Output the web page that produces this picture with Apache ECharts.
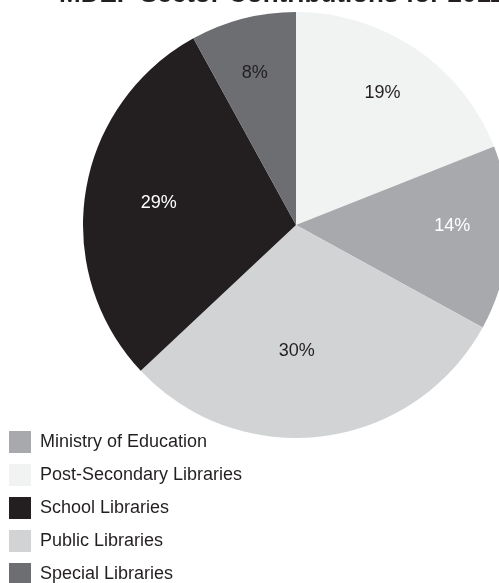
<!DOCTYPE html>
<html>
<head>
<meta charset="utf-8">
<script src="https://cdn.jsdelivr.net/npm/echarts@6/dist/echarts.min.js"></script>
<style>
html,body{margin:0;padding:0;background:#fff;}
#chart{width:499px;height:583px;}
</style>
</head>
<body>
<div id="chart"></div>
<script>
// Data (clockwise from 12 o'clock)
var categories = ['Post-Secondary Libraries', 'Ministry of Education', 'Public Libraries', 'School Libraries', 'Special Libraries'];
var values = [19, 14, 30, 29, 8];
var legendOrder = ['Ministry of Education', 'Post-Secondary Libraries', 'School Libraries', 'Public Libraries', 'Special Libraries'];
var titleText = 'MDEF Sector Contributions for 2011';

// Styles
var sliceColors = ['#f1f2f2', '#a7a9ac', '#d1d3d4', '#231f20', '#6d6e71'];
var labelColors = ['#231f20', '#ffffff', '#231f20', '#ffffff', '#231f20'];
var labelOffsets = [[25, -41], [47, -6], [-13, 17], [-29, -5], [-14, -46]];

var chart = echarts.init(document.getElementById('chart'), null, {renderer: 'canvas'});

var seriesData = categories.map(function (c, i) {
  return {
    name: c,
    value: values[i],
    itemStyle: {color: sliceColors[i]},
    label: {color: labelColors[i]}
  };
});

chart.setOption({
  animation: false,
  backgroundColor: '#ffffff',
  title: {
    text: titleText,
    left: 54,
    top: -23,
    textStyle: {
      fontFamily: 'Liberation Sans, Arial, sans-serif',
      fontSize: 26,
      fontWeight: 'bold',
      color: '#231f20'
    }
  },
  legend: {
    data: legendOrder,
    orient: 'vertical',
    left: 9,
    top: 431,
    height: 200,
    itemWidth: 22,
    itemHeight: 22,
    itemGap: 11,
    icon: 'rect',
    padding: 0,
    textStyle: {
      fontFamily: 'Liberation Sans, Arial, sans-serif',
      fontSize: 18,
      color: '#231f20',
      padding: [0, 0, 0, 4]
    }
  },
  series: [{
    type: 'pie',
    center: [296, 225],
    radius: 213,
    startAngle: 90,
    clockwise: true,
    avoidLabelOverlap: false,
    itemStyle: {borderWidth: 0},
    emphasis: {disabled: true},
    label: {
      show: true,
      position: 'inside',
      formatter: '{c}%',
      fontFamily: 'Liberation Sans, Arial, sans-serif',
      fontSize: 18
    },
    labelLine: {show: false},
    labelLayout: function (params) {
      var o = labelOffsets[params.dataIndex];
      return {dx: o[0], dy: o[1]};
    },
    data: seriesData
  }]
});
</script>
</body>
</html>
